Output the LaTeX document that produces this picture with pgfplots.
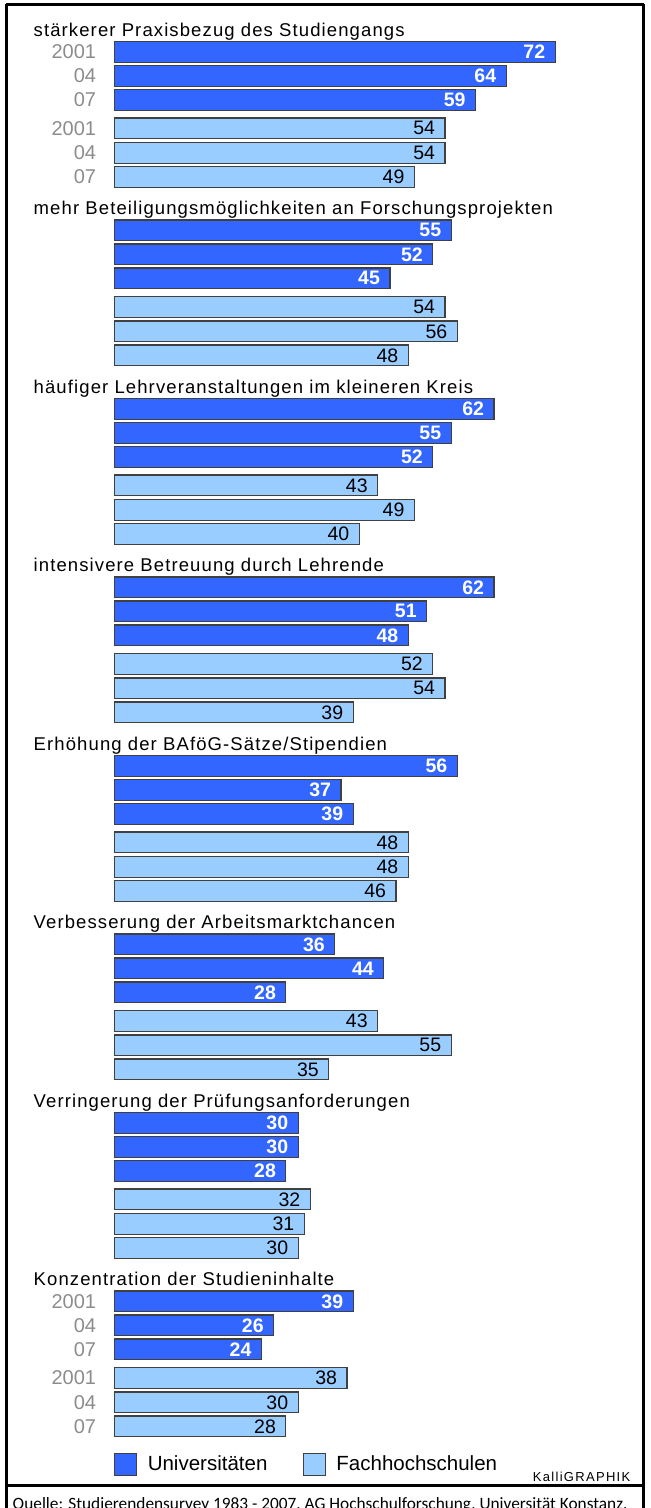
\documentclass[border=0pt]{standalone}
\usepackage{fontspec}
\setmainfont{Liberation Sans}
\newfontfamily\titlefont{Liberation Sans}[LetterSpace=6]
\newfontfamily\smallfont{Liberation Sans}[LetterSpace=10]
\newfontfamily\srcfont{Carlito}
\usepackage{pgfplots}
\usepackage{pgfplotstable}
\pgfplotsset{compat=1.18}

\definecolor{uni}{HTML}{3366FF}
\definecolor{fh}{HTML}{99CCFF}
\definecolor{yeargray}{HTML}{8C8C8C}

% v = share in percent, y = bar centre (reference pixel rows, top = 0)
\pgfplotstableread{
v y
72 51.8
64 75.8
59 99.8
55 230.3
52 254.3
45 278.3
62 408.8
55 432.8
52 456.8
62 587.3
51 611.3
48 635.3
56 765.8
37 789.8
39 813.8
36 944.3
44 968.3
28 992.3
30 1122.8
30 1146.8
28 1170.8
39 1301.3
26 1325.3
24 1349.3
}\unitab

\pgfplotstableread{
v y
54 128.3
54 152.8
49 176.8
54 306.8
56 331.3
48 355.3
43 485.3
49 509.8
40 533.8
52 663.8
54 688.3
39 712.3
48 842.3
48 866.8
46 890.8
43 1020.8
55 1045.3
35 1069.3
32 1199.3
31 1223.8
30 1247.8
38 1377.8
30 1402.3
28 1426.3
}\fhtab

\begin{document}
\begin{tikzpicture}
\path[use as bounding box] (0,0) rectangle (325.5pt,754pt);
\begin{axis}[
  at={(0,0)}, anchor=south west,
  width=325.5pt, height=754pt, scale only axis, hide axis,
  xmin=-18.709, xmax=87.663, ymin=0, ymax=1508, y dir=reverse,
  /pgf/number format/assume math mode=true,
  xbar, bar width=20.7, bar shift=0pt,
  nodes near coords, point meta=x,
  every node near coord/.append style={anchor=east, inner sep=0pt, xshift=-4.7pt},
  legend columns=2,
  legend style={at={(axis cs:-0.082,1464.5)}, anchor=west, draw=none, fill=none,
    inner sep=0pt, outer sep=0pt, nodes={inner sep=0pt},
    font=\fontsize{10.25}{12}\selectfont,
    /tikz/every odd column/.style={column sep=5.3pt},
    /tikz/every even column/.style={column sep=17.6pt}},
]
\addplot[fill=uni, draw=black!75, line width=0.6pt,
  nodes near coords style={text=white, font=\fontsize{9.75}{11}\selectfont\bfseries},
  legend image code/.code={\draw[fill=uni, draw=black!75, line width=0.6pt] (0pt,-5.5pt) rectangle (11pt,5.5pt);}]
  table[x=v, y=y] {\unitab};
\addlegendentry{Universitäten}
\addplot[fill=fh, draw=black!75, line width=0.6pt,
  nodes near coords style={text=black, font=\fontsize{9.75}{11}\selectfont},
  legend image code/.code={\draw[fill=fh, draw=black!75, line width=0.6pt] (0pt,-5.5pt) rectangle (11pt,5.5pt);}]
  table[x=v, y=y] {\fhtab};
\addlegendentry{Fachhochschulen}

% group titles
\tikzset{ttl/.style={anchor=base west, inner sep=0pt, font=\titlefont\fontsize{9.25}{11}\selectfont}}
\node[ttl] at (axis cs:-13.268,36.3) {stärkerer Praxisbezug des Studiengangs};
\node[ttl] at (axis cs:-13.268,214.8) {mehr Beteiligungsmöglichkeiten an Forschungsprojekten};
\node[ttl] at (axis cs:-13.268,393.3) {häufiger Lehrveranstaltungen im kleineren Kreis};
\node[ttl] at (axis cs:-13.268,571.8) {intensivere Betreuung durch Lehrende};
\node[ttl] at (axis cs:-13.268,750.3) {Erhöhung der BAföG-Sätze/Stipendien};
\node[ttl] at (axis cs:-13.268,928.8) {Verbesserung der Arbeitsmarktchancen};
\node[ttl] at (axis cs:-13.268,1107.3) {Verringerung der Prüfungsanforderungen};
\node[ttl] at (axis cs:-13.268,1285.8) {Konzentration der Studieninhalte};

% year labels (first and last group)
\tikzset{yr/.style={anchor=east, inner sep=0pt, text=yeargray, font=\fontsize{10}{12}\selectfont}}
\node[yr] at (axis cs:-2.941,51.8) {2001};
\node[yr] at (axis cs:-2.941,75.8) {04};
\node[yr] at (axis cs:-2.941,99.8) {07};
\node[yr] at (axis cs:-2.941,128.3) {2001};
\node[yr] at (axis cs:-2.941,152.8) {04};
\node[yr] at (axis cs:-2.941,176.8) {07};
\node[yr] at (axis cs:-2.941,1301.3) {2001};
\node[yr] at (axis cs:-2.941,1325.3) {04};
\node[yr] at (axis cs:-2.941,1349.3) {07};
\node[yr] at (axis cs:-2.941,1377.8) {2001};
\node[yr] at (axis cs:-2.941,1402.3) {04};
\node[yr] at (axis cs:-2.941,1426.3) {07};

% frame
\draw[line width=1.5pt] (axis cs:-17.680,4.5) -- (axis cs:86.438,4.5);
\draw[line width=1.5pt] (axis cs:-17.680,3.8) -- (axis cs:-17.680,1508);
\draw[line width=1.5pt] (axis cs:86.438,3.8) -- (axis cs:86.438,1508);
\draw[line width=1.5pt] (axis cs:-17.680,1485.5) -- (axis cs:86.438,1485.5);

\node[anchor=base east, inner sep=0pt, font=\smallfont\fontsize{6.5}{8}\selectfont]
  at (axis cs:84.346,1481.7) {KalliGRAPHIK};
\node[anchor=base west, inner sep=0pt, font=\srcfont\fontsize{8.65}{10}\selectfont]
  at (axis cs:-16.700,1509.5) {Quelle: Studierendensurvey 1983 - 2007, AG Hochschulforschung, Universität Konstanz.};
\end{axis}
\end{tikzpicture}
\end{document}
